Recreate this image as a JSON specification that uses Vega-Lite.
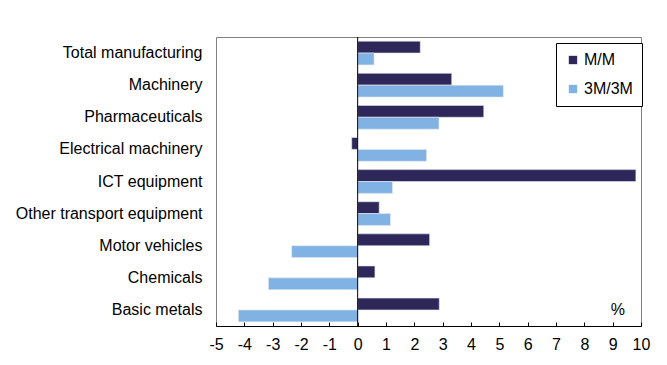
{
  "$schema": "https://vega.github.io/schema/vega-lite/v6.json",
  "width": 425,
  "height": 289,
  "autosize": {"type": "none"},
  "padding": {"left": 216, "top": 37, "right": 26, "bottom": 39},
  "background": "white",
  "config": {
    "font": "Liberation Sans",
    "view": {"stroke": "#808080", "strokeWidth": 1}
  },
  "data": {
    "values": [
      {"industry": "Total manufacturing", "series": "M/M", "value": 2.21},
      {"industry": "Total manufacturing", "series": "3M/3M", "value": 0.58},
      {"industry": "Machinery", "series": "M/M", "value": 3.32},
      {"industry": "Machinery", "series": "3M/3M", "value": 5.14},
      {"industry": "Pharmaceuticals", "series": "M/M", "value": 4.45},
      {"industry": "Pharmaceuticals", "series": "3M/3M", "value": 2.87},
      {"industry": "Electrical machinery", "series": "M/M", "value": -0.21},
      {"industry": "Electrical machinery", "series": "3M/3M", "value": 2.43},
      {"industry": "ICT equipment", "series": "M/M", "value": 9.82},
      {"industry": "ICT equipment", "series": "3M/3M", "value": 1.23},
      {"industry": "Other transport equipment", "series": "M/M", "value": 0.76},
      {"industry": "Other transport equipment", "series": "3M/3M", "value": 1.16},
      {"industry": "Motor vehicles", "series": "M/M", "value": 2.54},
      {"industry": "Motor vehicles", "series": "3M/3M", "value": -2.33},
      {"industry": "Chemicals", "series": "M/M", "value": 0.61},
      {"industry": "Chemicals", "series": "3M/3M", "value": -3.15},
      {"industry": "Basic metals", "series": "M/M", "value": 2.88},
      {"industry": "Basic metals", "series": "3M/3M", "value": -4.21}
    ]
  },
  "encoding": {
    "y": {
      "field": "industry",
      "type": "nominal",
      "sort": ["Total manufacturing", "Machinery", "Pharmaceuticals", "Electrical machinery", "ICT equipment", "Other transport equipment", "Motor vehicles", "Chemicals", "Basic metals"],
      "scale": {"paddingInner": 0.26, "paddingOuter": 0.13},
      "axis": {"title": null, "ticks": false, "domain": false, "labelFontSize": 16, "labelColor": "#000", "labelPadding": 14, "labelLimit": 400}
    }
  },
  "layer": [
    {
      "mark": {"type": "bar", "stroke": "#e8e8f0", "strokeWidth": 0.6},
      "encoding": {
        "x": {
          "field": "value",
          "type": "quantitative",
          "scale": {"domain": [-5, 10], "nice": false},
          "axis": {"title": null, "values": [-5,-4,-3,-2,-1,0,1,2,3,4,5,6,7,8,9,10], "tickCount": 16, "labelExpr": "'' + datum.value", "labelOverlap": false, "grid": false, "domainColor": "#000", "tickColor": "#000", "tickSize": -4, "labelPadding": 14, "labelFontSize": 16, "labelColor": "#000", "labelFlush": false}
        },
        "yOffset": {"field": "series", "type": "nominal", "sort": ["M/M", "3M/3M"], "scale": {"paddingInner": 0, "paddingOuter": 0}},
        "color": {
          "field": "series",
          "type": "nominal",
          "scale": {"domain": ["M/M", "3M/3M"], "range": ["#2D2859", "#80B3E3"]},
          "legend": {
            "title": null,
            "orient": "none",
            "legendX": 340,
            "legendY": 6,
            "symbolType": "square",
            "symbolSize": 70,
            "symbolStrokeWidth": 0,
            "labelFontSize": 16,
            "labelColor": "#000",
            "labelOffset": 3,
            "rowPadding": 13,
            "padding": 9,
            "strokeColor": "#000",
            "fillColor": "white"
          }
        }
      }
    },
    {
      "data": {"values": [{"z": 0}]},
      "mark": {"type": "rule", "color": "#000", "strokeWidth": 1},
      "encoding": {"x": {"field": "z", "type": "quantitative"}, "y": {"value": 0}, "y2": {"value": 289}}
    },
    {
      "data": {"values": [{"label": "%", "industry": "Basic metals", "x": 9.18}]},
      "mark": {"type": "text", "fontSize": 16, "color": "#000"},
      "encoding": {
        "x": {"field": "x", "type": "quantitative"},
        "text": {"field": "label"}
      }
    }
  ]
}
